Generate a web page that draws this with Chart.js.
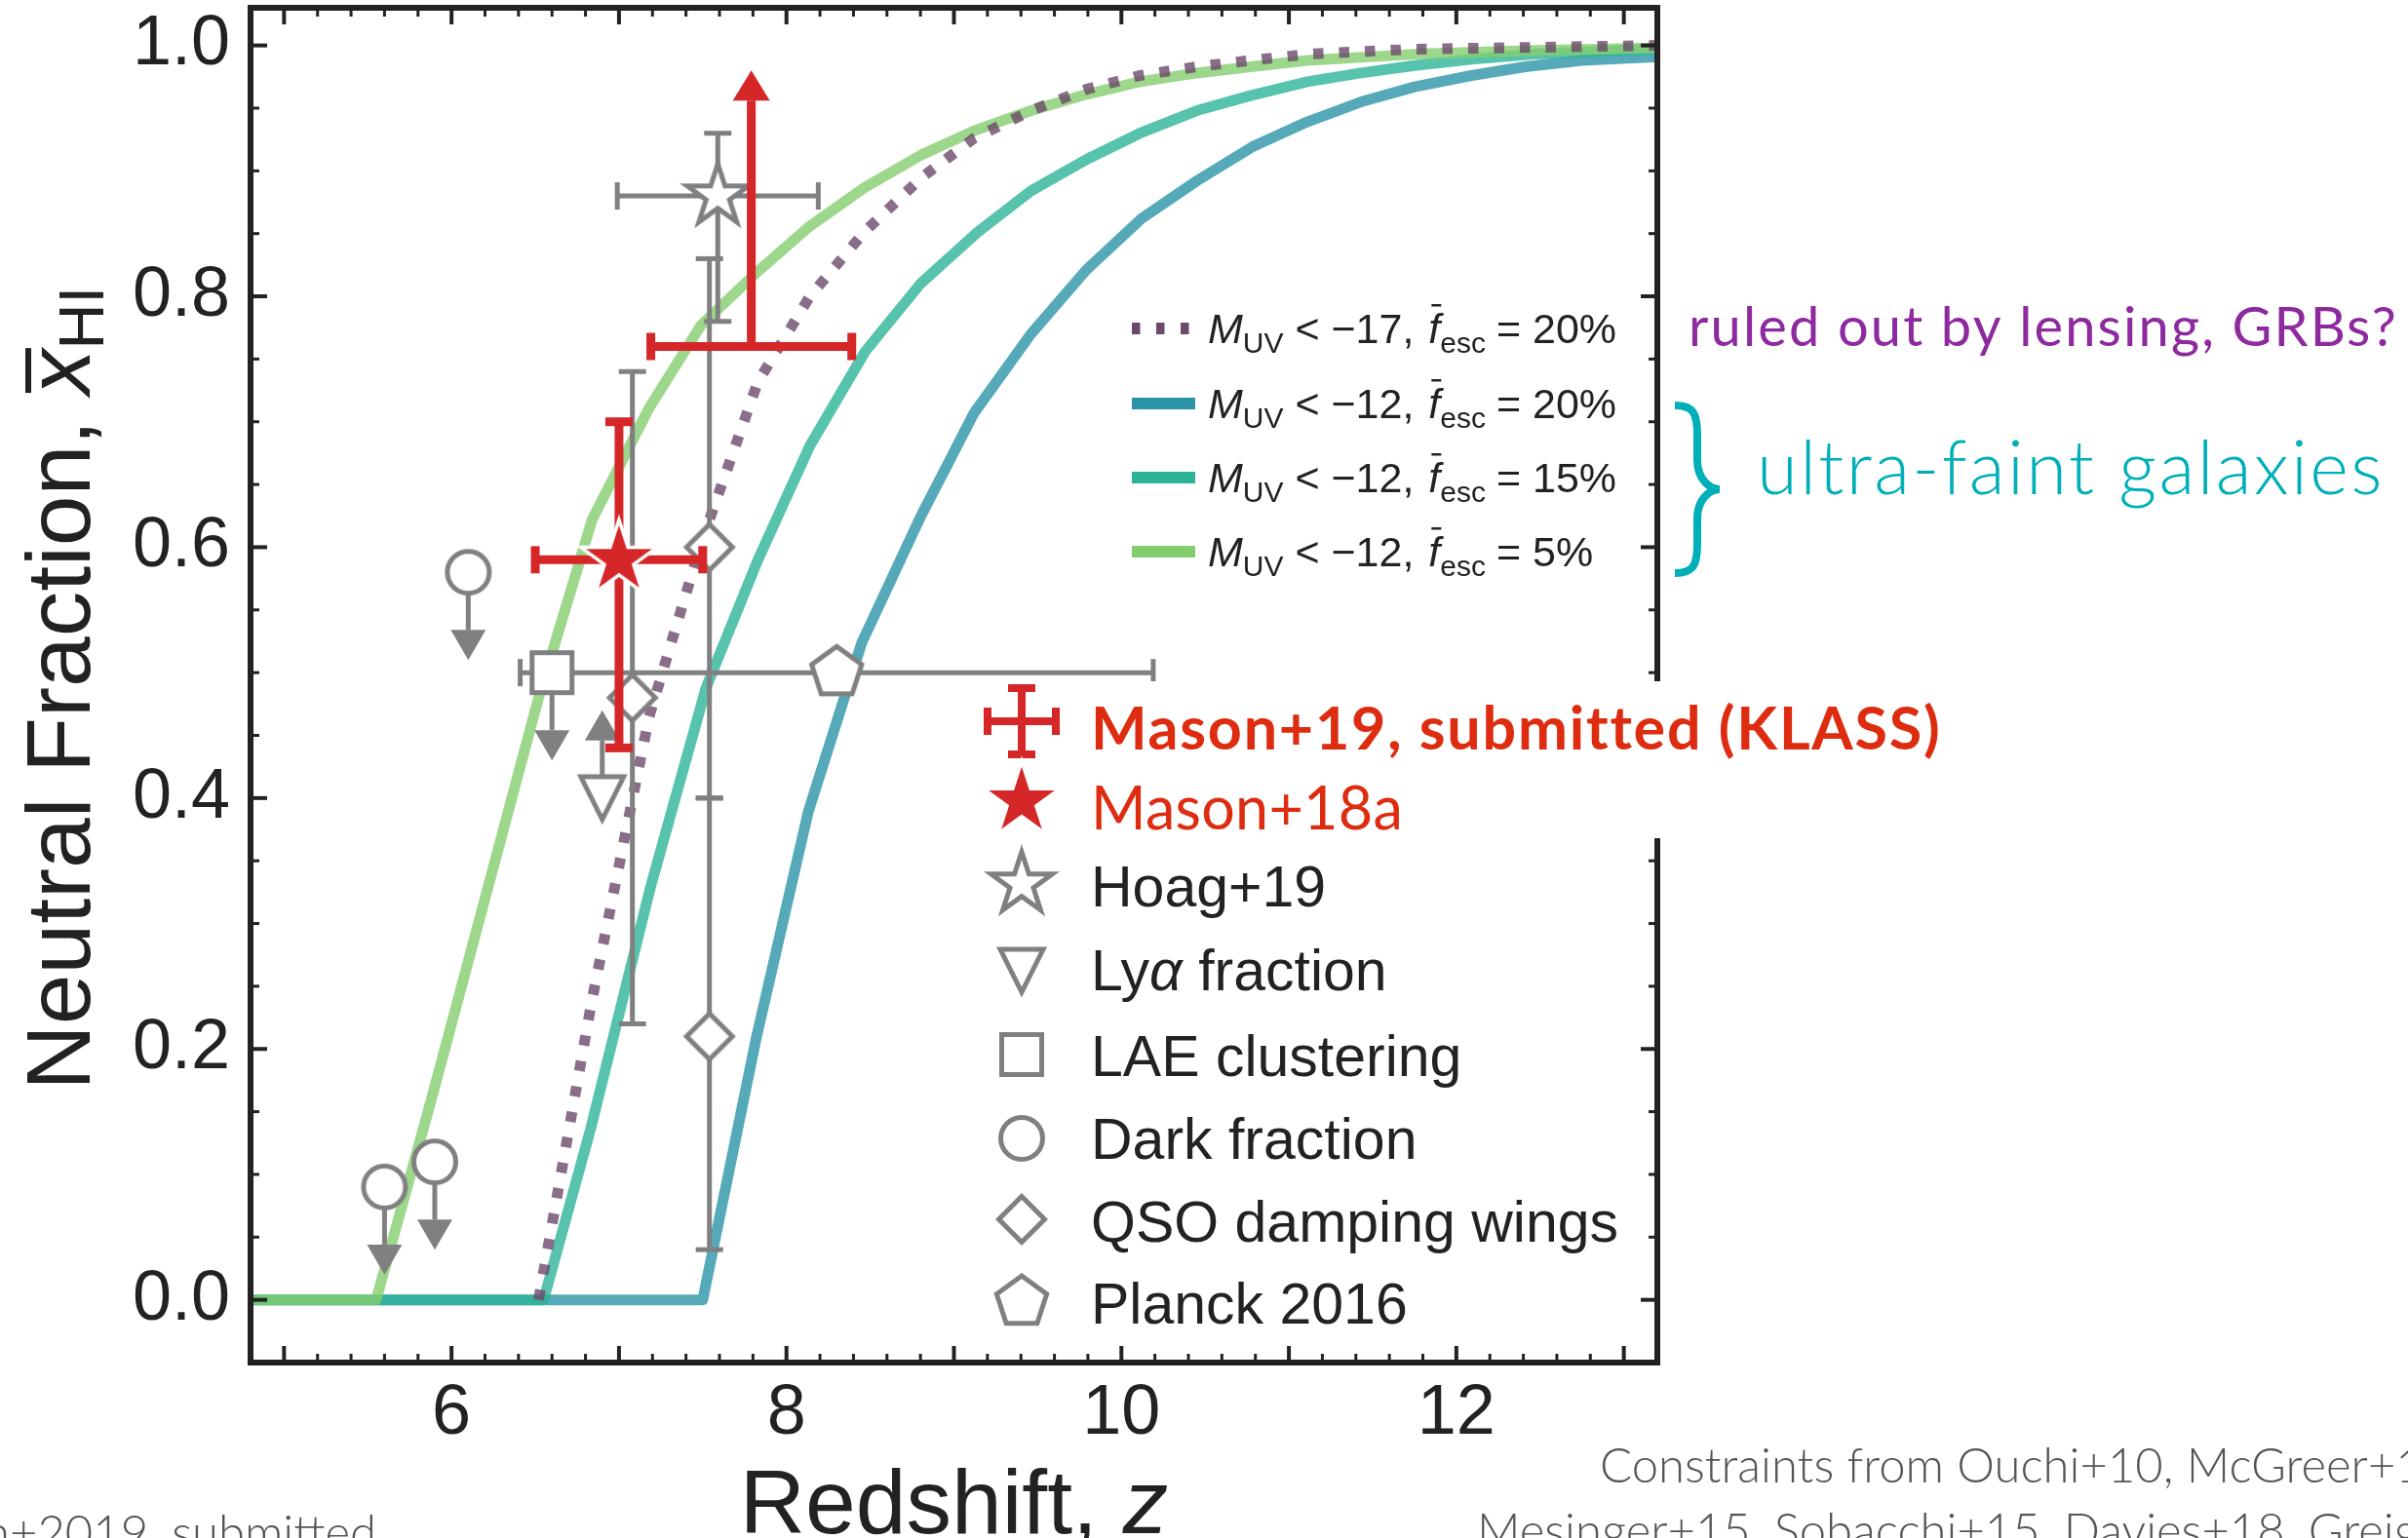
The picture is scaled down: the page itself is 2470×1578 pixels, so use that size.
<!DOCTYPE html>
<html>
<head>
<meta charset="utf-8">
<title>Neutral fraction vs redshift</title>
<script src="https://cdn.jsdelivr.net/npm/chart.js@4.4.1/dist/chart.umd.min.js"></script>
<style>
  html, body { margin: 0; padding: 0; background: #fff; }
  canvas { display: block; }
</style>
</head>
<body>
<canvas id="xhiChart" width="2470" height="1578"></canvas>
<script>
// ---- model curves (redshift, neutral fraction) ----
const zFaint20 = [4.8, 7.50, 7.82, 8.13, 8.45, 8.80, 9.12, 9.46, 9.79, 10.12, 10.45, 10.78, 11.09, 11.43, 11.75, 12.09, 12.41, 12.75, 13.2];
const xFaint20 = [0, 0, 0.209, 0.389, 0.524, 0.624, 0.707, 0.770, 0.821, 0.862, 0.892, 0.919, 0.938, 0.955, 0.967, 0.976, 0.983, 0.988, 0.991];

const zFaint15 = [4.8, 6.55, 6.83, 7.19, 7.52, 7.83, 8.14, 8.47, 8.80, 9.14, 9.46, 9.79, 10.11, 10.45, 10.77, 11.11, 11.43, 11.75, 12.09, 12.46, 13.2];
const xFaint15 = [0, 0, 0.136, 0.330, 0.488, 0.590, 0.681, 0.756, 0.810, 0.851, 0.884, 0.909, 0.930, 0.948, 0.960, 0.971, 0.978, 0.984, 0.989, 0.993, 0.997];

const zFaint5 = [4.8, 5.55, 5.88, 6.20, 6.52, 6.84, 7.18, 7.49, 7.83, 8.14, 8.47, 8.81, 9.12, 9.46, 9.79, 10.11, 10.45, 10.77, 11.11, 11.75, 12.46, 13.2];
const xFaint5 = [0, 0, 0.160, 0.320, 0.480, 0.622, 0.711, 0.777, 0.820, 0.856, 0.887, 0.913, 0.932, 0.948, 0.961, 0.971, 0.978, 0.983, 0.988, 0.993, 0.996, 0.998];

const zBright20 = [6.52, 6.84, 7.18, 7.49, 7.83, 8.14, 8.47, 8.81, 9.12, 9.46, 9.79, 10.11, 10.45, 10.77, 11.11, 11.75, 13.2];
const xBright20 = [0, 0.240, 0.465, 0.603, 0.732, 0.800, 0.852, 0.895, 0.926, 0.948, 0.965, 0.976, 0.983, 0.988, 0.993, 0.997, 1.0];

// ---- observational constraints ----
const klassZ = [7.79], klassX = [0.76], klassZerr = [0.6], klassLimit = [0.22];
const mason18Z = [7.0], mason18X = [0.59], mason18Zerr = [0.5], mason18Lo = [0.15], mason18Hi = [0.11];
const hoagZ = [7.59], hoagX = [0.88], hoagZerr = [0.6], hoagLo = [0.10], hoagHi = [0.05];
const lyaZ = [6.90], lyaX = [0.40], lyaLimit = [0.07];
const laeZ = [6.60], laeX = [0.50], laeLimit = [0.07];
const darkZ = [5.60, 5.90, 6.10], darkX = [0.09, 0.11, 0.58], darkLimit = [0.07, 0.07, 0.07];
const qsoZ = [7.08, 7.54, 7.54], qsoX = [0.48, 0.60, 0.21], qsoLo = [0.26, 0.20, 0.17], qsoHi = [0.26, 0.23, 0.19];
const planckZ = [8.30], planckX = [0.50], planckZerr = [1.89];

const xTickLabels = [6, 8, 10, 12];
const yTickLabels = ['0.0', '0.2', '0.4', '0.6', '0.8', '1.0'];

const lineLabels = [
  ['\u221217', '20%'],
  ['\u221212', '20%'],
  ['\u221212', '15%'],
  ['\u221212', '5%']
];
const pointLabels = ['Mason+19, submitted (KLASS)', 'Mason+18a', 'Hoag+19', 'Ly\u03b1 fraction',
  'LAE clustering', 'Dark fraction', 'QSO damping wings', 'Planck 2016'];

const grey = '#808080';
const red = '#d62728';
const textRed = '#de2c10';
const ink = '#222222';
const curveColors = ['#6d4a6c', '#2a94a6', '#2db497', '#84cd6e'];
const helv = '"Liberation Sans", Arial, sans-serif';

function withAlpha(hex, a) {
  const n = parseInt(hex.slice(1), 16);
  return `rgba(${n >> 16}, ${(n >> 8) & 255}, ${n & 255}, ${a})`;
}

// ---- marker images ----
function markerCanvas(size, draw) {
  const c = document.createElement('canvas');
  c.width = size;
  c.height = size;
  const g = c.getContext('2d');
  g.translate(size / 2, size / 2);
  g.lineJoin = 'miter';
  draw(g);
  return c;
}

function starPath(g, R) {
  const r = R * 0.381966;
  g.beginPath();
  for (let i = 0; i < 10; i++) {
    const a = -Math.PI / 2 + i * Math.PI / 5;
    const rr = i % 2 ? r : R;
    g.lineTo(rr * Math.cos(a), rr * Math.sin(a));
  }
  g.closePath();
}

function polyPath(g, R, n, rot) {
  g.beginPath();
  for (let i = 0; i < n; i++) {
    const a = rot + i * 2 * Math.PI / n;
    g.lineTo(R * Math.cos(a), R * Math.sin(a));
  }
  g.closePath();
}

function openShape(path) {
  return g => {
    path(g);
    g.fillStyle = '#fff';
    g.fill();
    g.strokeStyle = grey;
    g.lineWidth = 5;
    g.stroke();
  };
}

const starRed = markerCanvas(100, g => {
  starPath(g, 41);
  g.fillStyle = red;
  g.fill();
  g.strokeStyle = '#fff';
  g.lineWidth = 3.5;
  g.stroke();
});
const starGrey = markerCanvas(90, openShape(g => starPath(g, 33)));
const triDown = markerCanvas(70, openShape(g => {
  g.beginPath();
  g.moveTo(-22, -22); g.lineTo(22, -22); g.lineTo(0, 22);
  g.closePath();
}));
const squareMark = markerCanvas(60, openShape(g => {
  g.beginPath();
  g.rect(-20.5, -20.5, 41, 41);
}));
const circleMark = markerCanvas(60, openShape(g => {
  g.beginPath();
  g.arc(0, 0, 21.5, 0, Math.PI * 2);
}));
const diamondMark = markerCanvas(64, openShape(g => polyPath(g, 23.5, 4, -Math.PI / 2)));
const pentaMark = markerCanvas(70, openShape(g => polyPath(g, 27, 5, -Math.PI / 2)));

// ---- datasets ----
function pts(zs, xs) {
  return zs.map((z, i) => ({ x: z, y: xs[i] }));
}

function curve(zs, xs, color, order, dash) {
  return {
    data: pts(zs, xs),
    showLine: true,
    borderColor: withAlpha(color, 0.8),
    borderWidth: 11,
    borderDash: dash || [],
    borderCapStyle: 'butt',
    borderJoinStyle: 'round',
    pointRadius: 0,
    pointHoverRadius: 0,
    tension: 0,
    fill: false,
    order
  };
}

function markers(zs, xs, style, order, errorBars) {
  return {
    data: pts(zs, xs),
    showLine: false,
    pointStyle: style || 'circle',
    pointRadius: style ? 20 : 0,
    pointHoverRadius: style ? 20 : 0,
    order,
    errorBars
  };
}

const greyBars = { color: grey, width: 5, cap: 14 };
const redBars = { color: red, width: 9, cap: 14 };

const datasets = [
  curve(zFaint20, xFaint20, curveColors[1], 23),
  curve(zFaint15, xFaint15, curveColors[2], 22),
  curve(zFaint5, xFaint5, curveColors[3], 21),
  curve(zBright20, xBright20, curveColors[0], 20, [10.5, 16]),
  markers(planckZ, planckX, pentaMark, 9, { ...greyBars, zerr: planckZerr }),
  markers(qsoZ, qsoX, diamondMark, 7, { ...greyBars, lo: qsoLo, hi: qsoHi }),
  markers(darkZ, darkX, circleMark, 6, { ...greyBars, limit: darkLimit, dir: -1 }),
  markers(laeZ, laeX, squareMark, 6, { ...greyBars, limit: laeLimit, dir: -1 }),
  markers(lyaZ, lyaX, triDown, 6, { ...greyBars, limit: lyaLimit, dir: 1 }),
  markers(hoagZ, hoagX, starGrey, 5, { ...greyBars, zerr: hoagZerr, lo: hoagLo, hi: hoagHi }),
  markers(mason18Z, mason18X, starRed, 2, { ...redBars, zerr: mason18Zerr, lo: mason18Lo, hi: mason18Hi }),
  markers(klassZ, klassX, null, 1, { ...redBars, zerr: klassZerr, limit: klassLimit, dir: 1 })
];

// ---- drawing helpers ----
function seg(ctx, x1, y1, x2, y2) {
  ctx.beginPath();
  ctx.moveTo(x1, y1);
  ctx.lineTo(x2, y2);
  ctx.stroke();
}

function arrowHead(ctx, x, tipY, dir, w, h) {
  // dir = 1 pointing up, -1 pointing down
  ctx.beginPath();
  ctx.moveTo(x, tipY);
  ctx.lineTo(x - w / 2, tipY + dir * h);
  ctx.lineTo(x + w / 2, tipY + dir * h);
  ctx.closePath();
  ctx.fill();
}

function drawErrorBars(chart, ds) {
  const { ctx, scales: { x, y } } = chart;
  const e = ds.errorBars;
  ctx.save();
  ctx.strokeStyle = e.color;
  ctx.fillStyle = e.color;
  ctx.lineWidth = e.width;
  ctx.lineCap = 'butt';
  ds.data.forEach((p, i) => {
    const px = x.getPixelForValue(p.x);
    const py = y.getPixelForValue(p.y);
    if (e.zerr) {
      const l = x.getPixelForValue(p.x - e.zerr[i]);
      const r = x.getPixelForValue(p.x + e.zerr[i]);
      seg(ctx, l, py, r, py);
      seg(ctx, l, py - e.cap, l, py + e.cap);
      seg(ctx, r, py - e.cap, r, py + e.cap);
    }
    if (e.lo) {
      const b = y.getPixelForValue(p.y - e.lo[i]);
      const t = y.getPixelForValue(p.y + e.hi[i]);
      seg(ctx, px, b, px, t);
      seg(ctx, px - e.cap, b, px + e.cap, b);
      seg(ctx, px - e.cap, t, px + e.cap, t);
    }
    if (e.limit) {
      const tip = y.getPixelForValue(p.y + e.dir * e.limit[i]);
      const head = 31;
      seg(ctx, px, py, px, tip + e.dir * head);
      arrowHead(ctx, px, tip, e.dir, e.color === red ? 38 : 36, head);
    }
  });
  ctx.restore();
}

function richText(ctx, x, y, runs) {
  for (const r of runs) {
    ctx.font = r.font;
    x += r.gap || 0;
    ctx.fillText(r.t, x, y + (r.dy || 0));
    const w = ctx.measureText(r.t).width;
    if (r.bar) {
      ctx.fillRect(x + r.bar[0], y - r.bar[1], r.bar[2], r.bar[3]);
    }
    x += w;
  }
  return x;
}

function runsWidth(ctx, runs) {
  let w = 0;
  for (const r of runs) {
    ctx.font = r.font;
    w += (r.gap || 0) + ctx.measureText(r.t).width;
  }
  return w;
}

// draws text with letter spacing chosen so that it spans the given width
function spacedText(ctx, text, x, y, font, width) {
  ctx.font = font;
  ctx.letterSpacing = '0px';
  const w = ctx.measureText(text).width;
  ctx.letterSpacing = ((width - w) / text.length).toFixed(2) + 'px';
  ctx.fillText(text, x, y);
  ctx.letterSpacing = '0px';
}

function drawFrame(ctx, a, xs, ys) {
  ctx.save();
  ctx.strokeStyle = ink;
  ctx.lineCap = 'butt';
  for (let i = 25; i < 66; i++) {
    const px = xs.getPixelForValue(i / 5);
    const major = i % 5 === 0;
    const len = major ? 17 : 9;
    ctx.lineWidth = major ? 4 : 3;
    seg(ctx, px, a.bottom, px, a.bottom - len);
    seg(ctx, px, a.top, px, a.top + len);
  }
  for (let i = 0; i <= 20; i++) {
    const py = ys.getPixelForValue(i * 0.05);
    const major = i % 4 === 0;
    const len = major ? 17 : 9;
    ctx.lineWidth = major ? 4 : 3;
    seg(ctx, a.left, py, a.left + len, py);
    seg(ctx, a.right, py, a.right - len, py);
  }
  ctx.lineWidth = 6;
  ctx.strokeRect(a.left, a.top, a.right - a.left, a.bottom - a.top);
  ctx.restore();
}

function drawLineLegend(ctx) {
  const rowsY = [337, 414, 490, 566];
  const big = `43px ${helv}`, bigI = `italic 43px ${helv}`, small = `30px ${helv}`;
  ctx.save();
  rowsY.forEach((ry, i) => {
    ctx.strokeStyle = curveColors[i];
    ctx.lineWidth = 12;
    ctx.lineCap = 'butt';
    ctx.setLineDash(i === 0 ? [8.5, 16.5] : []);
    seg(ctx, 1161, ry, 1226, ry);
    ctx.setLineDash([]);
    ctx.fillStyle = ink;
    ctx.textBaseline = 'alphabetic';
    richText(ctx, 1239, ry + 15, [
      { t: 'M', font: bigI },
      { t: 'UV', font: small, dy: 10 },
      { t: ' < ' + lineLabels[i][0] + ', ', font: big },
      { t: 'f', font: bigI, gap: 3, bar: [3, 40, 10, 2.5] },
      { t: 'esc', font: small, dy: 10 },
      { t: ' = ' + lineLabels[i][1], font: big, gap: -1 }
    ]);
  });
  ctx.restore();
}

function drawPointLegend(ctx) {
  const x0 = 1048, tx = 1119;
  const markY = [740, 822, 907, 996, 1082, 1168, 1251, 1336];
  const textY = [748, 830, 909, 995, 1083, 1168, 1253, 1337];
  const marks = [null, starRed, starGrey, triDown, squareMark, circleMark, diamondMark, pentaMark];
  ctx.save();
  // white box behind the red entries (it hides part of the right spine)
  ctx.fillStyle = '#fff';
  ctx.fillRect(1005, 699, 1000, 161);
  pointLabels.forEach((label, i) => {
    const ry = markY[i];
    if (marks[i]) {
      ctx.drawImage(marks[i], x0 - marks[i].width / 2, ry - marks[i].height / 2);
    } else {
      ctx.strokeStyle = red;
      ctx.lineWidth = 8;
      seg(ctx, x0 - 35, ry, x0 + 35, ry);
      seg(ctx, x0, ry - 34, x0, ry + 34);
      seg(ctx, x0 - 35, ry - 14, x0 - 35, ry + 14);
      seg(ctx, x0 + 35, ry - 14, x0 + 35, ry + 14);
      seg(ctx, x0 - 14, ry - 34, x0 + 14, ry - 34);
      seg(ctx, x0 + 14, ry + 34, x0 - 14, ry + 34);
    }
    ctx.textBaseline = 'alphabetic';
    const base = textY[i] + 21;
    if (i === 0) {
      ctx.fillStyle = textRed;
      spacedText(ctx, label, tx, base, '700 61px Lato', 870);
    } else if (i === 1) {
      ctx.fillStyle = textRed;
      spacedText(ctx, label, tx, base, '400 61px Lato', 320);
    } else if (i === 3) {
      ctx.fillStyle = ink;
      richText(ctx, tx, base, [
        { t: 'Ly', font: `59px ${helv}` },
        { t: '\u03b1', font: `italic 59px ${helv}` },
        { t: ' fraction', font: `59px ${helv}` }
      ]);
    } else {
      ctx.fillStyle = ink;
      ctx.font = `59px ${helv}`;
      ctx.fillText(label, tx, base);
    }
  });
  ctx.restore();
}

function drawAnnotations(ctx) {
  ctx.save();
  ctx.textBaseline = 'alphabetic';
  ctx.fillStyle = '#8e2a9f';
  spacedText(ctx, 'ruled out by lensing, GRBs?', 1732, 355, '400 56px Lato', 728);

  ctx.fillStyle = '#00afb8';
  spacedText(ctx, 'ultra-faint galaxies', 1802, 507, '300 76px Lato', 644);

  // curly brace
  ctx.strokeStyle = '#00afb8';
  ctx.lineWidth = 8;
  ctx.lineCap = 'butt';
  const x0 = 1718, x1 = 1741, xt = 1764, yt = 416, ym = 502, yb = 588;
  ctx.beginPath();
  ctx.moveTo(x0, yt);
  ctx.bezierCurveTo(x1 - 4, yt, x1, yt + 8, x1, yt + 30);
  ctx.lineTo(x1, ym - 30);
  ctx.bezierCurveTo(x1, ym - 10, xt - 10, ym, xt, ym);
  ctx.bezierCurveTo(xt - 10, ym, x1, ym + 10, x1, ym + 30);
  ctx.lineTo(x1, yb - 30);
  ctx.bezierCurveTo(x1, yb - 8, x1 - 4, yb, x0, yb);
  ctx.stroke();

  // footers (partly cut by the page edges)
  ctx.fillStyle = '#555';
  ctx.font = '300 49px Lato';
  ctx.textAlign = 'right';
  ctx.fillText('Mason+2019, submitted', 386, 1590);
  ctx.textAlign = 'left';
  ctx.fillText('Constraints from Ouchi+10, McGreer+15,', 1641, 1521);
  ctx.fillText('Mesinger+15, Sobacchi+15, Davies+18, Greig+19', 1515, 1588);
  ctx.restore();
}

function drawTitles(ctx, a) {
  ctx.save();
  ctx.fillStyle = ink;
  ctx.textBaseline = 'alphabetic';
  const big = `93px ${helv}`, bigI = `italic 93px ${helv}`;
  const xRuns = [{ t: 'Redshift, ', font: big }, { t: 'z', font: bigI }];
  const cx = (a.left + a.right) / 2;
  richText(ctx, cx - runsWidth(ctx, xRuns) / 2, 1573, xRuns);

  const yRuns = [
    { t: 'Neutral Fraction, ', font: big },
    { t: 'x', font: bigI, bar: [2, 66, 46, 6] },
    { t: 'HI', font: `65px ${helv}`, dy: 14 }
  ];
  ctx.translate(92, (a.top + a.bottom) / 2 + 3);
  ctx.rotate(-Math.PI / 2);
  richText(ctx, -runsWidth(ctx, yRuns) / 2, 0, yRuns);
  ctx.restore();
}

const errorBarPlugin = {
  id: 'errorBars',
  beforeDatasetDraw(chart, args) {
    const ds = chart.data.datasets[args.index];
    if (ds.errorBars) drawErrorBars(chart, ds);
  }
};

const decorPlugin = {
  id: 'decor',
  afterDraw(chart) {
    const { ctx, chartArea, scales: { x, y } } = chart;
    drawFrame(ctx, chartArea, x, y);
    drawPointLegend(ctx);
    drawLineLegend(ctx);
    drawAnnotations(ctx);
    drawTitles(ctx, chartArea);
  }
};

const tickFont = { family: 'Liberation Sans', size: 72 };

new Chart(document.getElementById('xhiChart'), {
  type: 'scatter',
  data: { datasets },
  options: {
    responsive: false,
    animation: false,
    devicePixelRatio: 1,
    events: [],
    layout: { autoPadding: false, padding: { top: 8, right: 770, bottom: 0, left: 0 } },
    plugins: { legend: { display: false }, tooltip: { enabled: false } },
    scales: {
      x: {
        type: 'linear',
        min: 4.8,
        max: 13.2,
        grid: { display: false, drawTicks: false },
        border: { display: false },
        ticks: {
          stepSize: 2,
          includeBounds: false,
          autoSkip: false,
          maxRotation: 0,
          padding: 10,
          color: ink,
          font: tickFont,
          callback: v => xTickLabels.includes(v) ? String(v) : ''
        },
        afterFit: s => { s.height = 180; s.paddingLeft = 0; s.paddingRight = 0; }
      },
      y: {
        type: 'linear',
        min: -0.05,
        max: 1.03,
        grid: { display: false, drawTicks: false },
        border: { display: false },
        ticks: {
          stepSize: 0.2,
          includeBounds: false,
          autoSkip: false,
          padding: 21,
          color: ink,
          font: tickFont,
          callback: v => yTickLabels[Math.round(v * 5)] || ''
        },
        afterFit: s => { s.width = 257; s.paddingTop = 0; s.paddingBottom = 0; }
      }
    }
  },
  plugins: [errorBarPlugin, decorPlugin]
});
</script>
</body>
</html>
